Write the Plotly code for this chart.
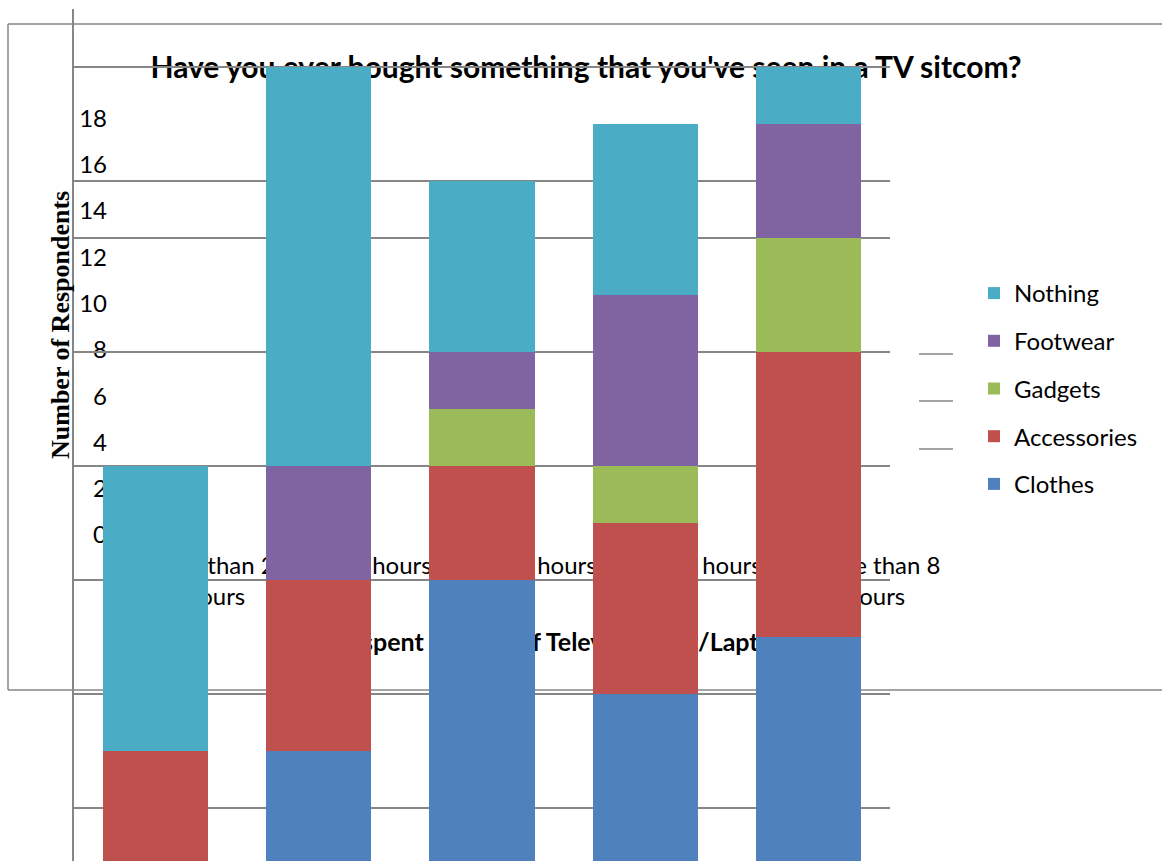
import plotly.graph_objects as go

W, H = 1162, 861

# ---------------- data ----------------
categories = ["Less than 2 hours", "2-4 hours", "4-6 hours", "6-8 hours", "More than 8 hours"]
tick_labels = ["Less than 2<br>hours", "2-4 hours", "4-6 hours", "6-8 hours", "More than 8<br>hours"]
clothes = [5, 8, 11, 9, 10]
accessories = [3, 3, 2, 3, 5]
gadgets = [0, 0, 1, 1, 2]
footwear = [0, 2, 1, 3, 2]
nothing = [5, 7, 3, 3, 1]
series_names = ["Clothes", "Accessories", "Gadgets", "Footwear", "Nothing"]
series_colors = ["#4F81BD", "#C0504D", "#9BBB59", "#8064A2", "#4BACC6"]
y_ticks_layer1 = [0, 2, 4, 6, 8, 10, 12, 14, 16, 18]
grid_values_bars = [21, 20, 18, 17, 15, 13, 11, 9, 7]

title_text = "Have you ever bought something that you've seen in a TV sitcom?"
x_title_text = "Time spent in front of Television Set/Laptop"
y_title_text = "Number of Respondents"

GRID = "#868686"
FONT = "Lato"


def px_x(p):
    return p / W


def px_y(p):
    return 1 - p / H


fig = go.Figure()

# invisible anchors so the background subplot (xy) and its overlays exist and are drawn first
fig.add_trace(go.Scatter(x=[0], y=[0], xaxis="x", yaxis="y", mode="markers",
                         marker=dict(opacity=0), showlegend=False, hoverinfo="skip"))
fig.add_trace(go.Scatter(x=[0.5], y=[0], xaxis="x3", yaxis="y", mode="markers",
                         marker=dict(opacity=0), showlegend=False, hoverinfo="skip"))
fig.add_trace(go.Scatter(x=[0.5], y=[0], xaxis="x4", yaxis="y", mode="markers",
                         marker=dict(opacity=0), showlegend=False, hoverinfo="skip"))

values = [clothes, accessories, gadgets, footwear, nothing]
n = len(series_names)
for i, (name, vals, col) in enumerate(zip(series_names, values, series_colors)):
    fig.add_trace(go.Bar(x=categories, y=vals, name=name, marker=dict(color=col, line=dict(width=0)),
                         xaxis="x2", yaxis="y2", legendgroup=name, legendrank=n - i))

# pixel mapping of bar layer: value 20 at 67 px, 57 px per unit
top_px = 9
unit = 57.0
y2_top = 20 + (67 - top_px) / unit
y2_bot = 20 - (H - 67) / unit

fig.update_layout(
    width=W, height=H, autosize=False,
    margin=dict(l=0, r=0, t=0, b=0, pad=0, autoexpand=False),
    paper_bgcolor="white", plot_bgcolor="rgba(0,0,0,0)",
    barmode="stack", bargap=0.356, hovermode=False,
    font=dict(family=FONT, color="black"),
    showlegend=True,
    legend=dict(x=px_x(974), y=px_y(271), xanchor="left", yanchor="top",
                traceorder="grouped", tracegroupgap=13.5,
                font=dict(family=FONT, size=24, color="black"),
                bgcolor="rgba(0,0,0,0)", itemclick=False),
    # background layer
    xaxis=dict(domain=[px_x(133), px_x(958)], range=[-0.5, 4.5], anchor="y",
               tickmode="array", tickvals=list(range(len(categories))), ticktext=tick_labels,
               tickfont=dict(family=FONT, size=24, color="black"), ticklabelstandoff=14,
               showgrid=False, zeroline=False, showline=False, ticks=""),
    yaxis=dict(domain=[px_y(535), px_y(72)], range=[0, 20], anchor="x",
               tickmode="array", tickvals=y_ticks_layer1,
               tickfont=dict(family=FONT, size=24, color="black"), ticklabelstandoff=25,
               showgrid=False, zeroline=False, showline=False, ticks=""),
    xaxis3=dict(overlaying="x", anchor="free", position=px_y(47), side="bottom",
                range=[0, 1], tickmode="array", tickvals=[(586 - 133) / 825],
                ticktext=["<b>" + title_text + "</b>"],
                tickfont=dict(family=FONT, size=30, color="black"),
                showgrid=False, zeroline=False, showline=False, ticks=""),
    xaxis4=dict(overlaying="x", anchor="free", position=px_y(625), side="bottom",
                range=[0, 1], tickmode="array", tickvals=[(543.75 - 133) / 825],
                ticktext=["<b>" + x_title_text + "</b>"],
                tickfont=dict(family=FONT, size=25, color="black"),
                showgrid=False, zeroline=False, showline=False, ticks=""),
    # bar layer
    xaxis2=dict(domain=[px_x(74), px_x(890)], anchor="y2", range=[-0.5, 4.5],
                showticklabels=False, showgrid=False, zeroline=False, showline=False, ticks=""),
    yaxis2=dict(domain=[0, px_y(top_px)], anchor="x2", range=[y2_bot, y2_top],
                tickmode="array", tickvals=grid_values_bars, showticklabels=False,
                showgrid=True, gridcolor=GRID, gridwidth=1.5, zeroline=False,
                showline=True, linecolor=GRID, linewidth=1.5, ticks=""),
)

# y-axis title (not covered by bars)
fig.add_annotation(x=px_x(60), y=px_y(325), xref="paper", yref="paper", text="<b>" + y_title_text + "</b>",
                   textangle=-90, showarrow=False, xanchor="center", yanchor="middle",
                   font=dict(family="Liberation Serif", size=26, color="black"))

# outer chart frame (partly off-screen) and stray gridline fragments
frame = [
    (px_x(8), px_y(24), 1.0, px_y(24)),
    (px_x(8), px_y(24), px_x(8), px_y(690)),
    (px_x(8), px_y(690), 1.0, px_y(690)),
]
for y in (354, 401, 449):
    frame.append((px_x(919), px_y(y), px_x(953), px_y(y)))
for x0, y0, x1, y1 in frame:
    fig.add_shape(type="line", xref="paper", yref="paper", x0=x0, y0=y0, x1=x1, y1=y1,
                  line=dict(color=GRID, width=1.5), layer="below")

fig.write_html("out.html", config={"displayModeBar": False},
               post_script="document.body.style.margin='0px';")
